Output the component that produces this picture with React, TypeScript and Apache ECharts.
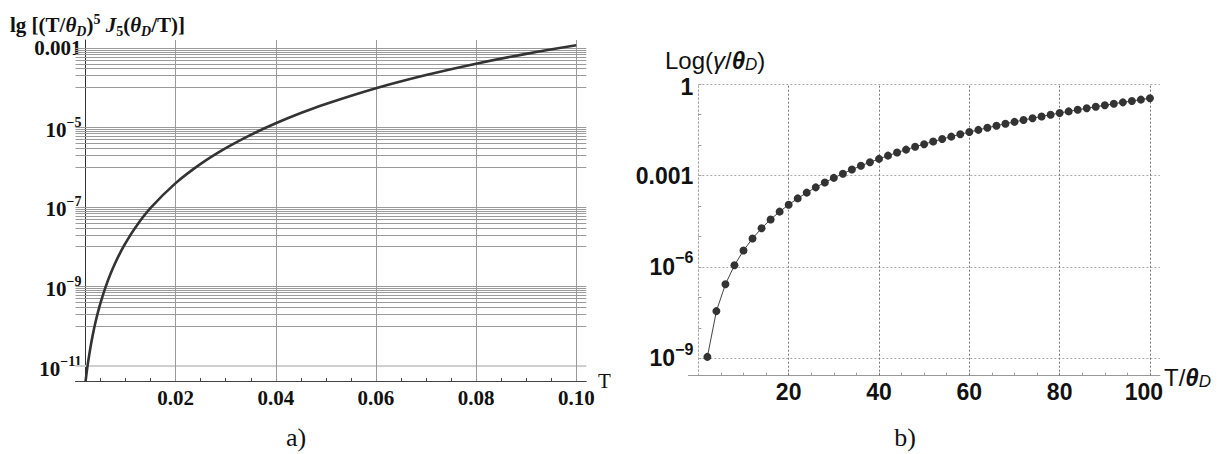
import React, { useEffect, useRef } from "react";
import * as echarts from "echarts";

// ---------- Chart a) ----------
const tA = [0.002, 0.0022, 0.0025, 0.003, 0.0035, 0.004, 0.0045, 0.005, 0.006, 0.007, 0.008, 0.009, 0.01, 0.012, 0.015, 0.02, 0.025, 0.03, 0.035, 0.04, 0.045, 0.05, 0.06, 0.07, 0.08, 0.09, 0.1];
const valA = [4.0e-12, 6.41e-12, 1.215e-11, 3.02e-11, 6.53e-11, 1.274e-10, 2.3e-10, 3.89e-10, 9.67e-10, 2.09e-9, 4.08e-9, 7.35e-9, 1.244e-8, 3.1e-8, 9.45e-8, 3.98e-7, 1.215e-6, 3.02e-6, 6.53e-6, 1.274e-5, 2.3e-5, 3.89e-5, 9.67e-5, 2.08e-4, 4.02e-4, 7.1e-4, 1.164e-3];
const xLabelsA = [0.02, 0.04, 0.06, 0.08, 0.1];
const xMinorTicksA = [0.005, 0.01, 0.015, 0.02, 0.025, 0.03, 0.035, 0.04, 0.045, 0.05, 0.055, 0.06, 0.065, 0.07, 0.075, 0.08, 0.085, 0.09, 0.095, 0.1];
const yLabelsA = [1e-3, 1e-5, 1e-7, 1e-9, 1e-11];
const gridExpA = [-3, -5, -7, -9];
const mantissas = [1, 2, 3, 4, 5, 6, 7, 8, 9];

// ---------- Chart b) ----------
const tB = [2, 4, 6, 8, 10, 12, 14, 16, 18, 20, 22, 24, 26, 28, 30, 32, 34, 36, 38, 40, 42, 44, 46, 48, 50, 52, 54, 56, 58, 60, 62, 64, 66, 68, 70, 72, 74, 76, 78, 80, 82, 84, 86, 88, 90, 92, 94, 96, 98, 100];
const valB = [1.11e-9, 3.55e-8, 2.7e-7, 1.14e-6, 3.47e-6, 8.63e-6, 1.87e-5, 3.64e-5, 6.56e-5, 1.11e-4, 1.79e-4, 2.76e-4, 4.12e-4, 5.97e-4, 8.43e-4, 1.16e-3, 1.58e-3, 2.1e-3, 2.75e-3, 3.55e-3, 4.54e-3, 5.72e-3, 7.15e-3, 8.84e-3, 1.08e-2, 1.32e-2, 1.59e-2, 1.91e-2, 2.28e-2, 2.7e-2, 3.18e-2, 3.73e-2, 4.35e-2, 5.05e-2, 5.83e-2, 6.71e-2, 7.7e-2, 8.8e-2, 1.0e-1, 1.14e-1, 1.29e-1, 1.45e-1, 1.63e-1, 1.83e-1, 2.05e-1, 2.29e-1, 2.55e-1, 2.83e-1, 3.14e-1, 3.47e-1];
const xLabelsB = [20, 40, 60, 80, 100];
const xMinorTicksB = [5, 10, 15, 20, 25, 30, 35, 40, 45, 50, 55, 60, 65, 70, 75, 80, 85, 90, 95, 100];
const yLabelsB = [1e-9, 1e-6, 1e-3, 1];
const yTicksB = [1e-9, 1e-8, 1e-7, 1e-6, 1e-5, 1e-4, 1e-3, 1e-2, 1e-1, 1];

const serif = "'Liberation Serif', 'Times New Roman', serif";
const sans = "'Liberation Sans', Arial, sans-serif";

export default function App() {
  const ref = useRef<HTMLDivElement>(null);

  useEffect(() => {
    const chart = echarts.init(ref.current as HTMLDivElement, null, { renderer: "svg" });

    const hLinesA: number[] = [];
    gridExpA.forEach((k) => {
      hLinesA.push(Math.pow(10, k));
      mantissas.forEach((m) => hLinesA.push(m * Math.pow(10, k - 1)));
    });

    const xMinA = 0;
    const xMaxA = 0.102;
    const gridLeftA = 75.5;
    const gridWidthA = 510.8;
    const yAxisPosA = 0.002;
    const offsetA = -((yAxisPosA - xMinA) / (xMaxA - xMinA)) * gridWidthA;

    const xMinB = -2.2;
    const xMaxB = 102.2;
    const gridLeftB = 688.4;
    const gridWidthB = 471.5;
    const offsetB = -((0 - xMinB) / (xMaxB - xMinB)) * gridWidthB;

    const fmtA = (v: number) => {
      const e = Math.round(Math.log10(v));
      if (e === -3) return "{p|0.001}";
      return `{b|10}{s|\u2212${-e}}`;
    };
    const fmtB = (v: number) => {
      const e = Math.round(Math.log10(v));
      if (e === 0) return "{one|1}";
      if (e === -3) return "{p|0.001}";
      return `{b|10}{s|\u2212${-e}}`;
    };

    const hLine = (x0: number, x1: number, v: number, style: any) => [
      { coord: [x0, v], lineStyle: style },
      { coord: [x1, v] },
    ];

    const option: any = {
      animation: false,
      backgroundColor: "#ffffff",
      grid: [
        { left: gridLeftA, top: 40, width: gridWidthA, height: 341 },
        { left: gridLeftB, top: 84.3, width: gridWidthB, height: 291.4 },
      ],
      xAxis: [
        {
          gridIndex: 0,
          type: "value",
          min: xMinA,
          max: xMaxA,
          axisLine: { show: true, onZero: false, lineStyle: { color: "#444", width: 1 } },
          axisTick: { show: true, inside: true, length: 3, customValues: xMinorTicksA, lineStyle: { color: "#444" } },
          axisLabel: {
            customValues: xLabelsA,
            formatter: (v: number) => v.toFixed(2),
            margin: 6,
            fontFamily: serif,
            fontWeight: "bold",
            fontSize: 21,
            color: "#111",
          },
          splitLine: { show: false },
        },
        {
          gridIndex: 1,
          type: "value",
          min: xMinB,
          max: xMaxB,
          axisLine: { show: true, onZero: false, lineStyle: { color: "#999", width: 1 } },
          axisTick: { show: true, inside: true, length: 3, customValues: xMinorTicksB, lineStyle: { color: "#999" } },
          axisLabel: {
            customValues: xLabelsB,
            formatter: (v: number) => (v === 100 ? "{r|100}" : "{n|" + v + "}"),
            margin: 5,
            rich: {
              n: { fontFamily: sans, fontWeight: "bold", fontSize: 23, color: "#111" },
              r: { fontFamily: sans, fontWeight: "bold", fontSize: 23, color: "#111", padding: [0, 12, 0, 0] },
            },
          },
          splitLine: { show: false },
        },
      ],
      yAxis: [
        {
          gridIndex: 0,
          type: "log",
          logBase: 10,
          min: 4.2e-12,
          max: 1.585e-3,
          position: "left",
          offset: offsetA,
          axisLine: { show: true, onZero: false, lineStyle: { color: "#333", width: 1 } },
          axisTick: { show: true, inside: false, length: 3, customValues: hLinesA.concat([1e-11]), lineStyle: { color: "#555" } },
          axisLabel: {
            customValues: yLabelsA,
            formatter: fmtA,
            margin: 4,
            rich: {
              p: { fontFamily: serif, fontWeight: "bold", fontSize: 21, color: "#111", lineHeight: 21 },
              b: { fontFamily: serif, fontWeight: "bold", fontSize: 21, color: "#111", lineHeight: 21, padding: [5, 0, 0, 0] },
              s: { fontFamily: serif, fontWeight: "bold", fontSize: 14, color: "#111", lineHeight: 14, padding: [0, 0, 10, 0] },
            },
          },
          splitLine: { show: false },
        },
        {
          gridIndex: 1,
          type: "log",
          logBase: 10,
          min: 2.68e-10,
          max: 1,
          position: "left",
          offset: offsetB,
          axisLine: { show: true, onZero: false, lineStyle: { color: "#aaa", width: 1, type: [2, 2] } },
          axisTick: { show: true, inside: true, length: 3, customValues: yTicksB, lineStyle: { color: "#999" } },
          axisLabel: {
            customValues: yLabelsB,
            formatter: fmtB,
            margin: 5,
            rich: {
              one: { fontFamily: sans, fontWeight: "bold", fontSize: 23, color: "#111", lineHeight: 18, padding: [5, 0, 0, 0] },
              p: { fontFamily: sans, fontWeight: "bold", fontSize: 23, color: "#111", lineHeight: 23 },
              b: { fontFamily: sans, fontWeight: "bold", fontSize: 23, color: "#111", lineHeight: 23 },
              s: { fontFamily: sans, fontWeight: "bold", fontSize: 16, color: "#111", lineHeight: 16, padding: [0, 0, 18, 0] },
            },
          },
          splitLine: { show: false },
        },
      ],
      series: [
        {
          type: "line",
          xAxisIndex: 0,
          yAxisIndex: 0,
          data: [],
          z: 1,
          markLine: {
            z: 1,
            silent: true,
            symbol: ["none", "none"],
            label: { show: false },
            data: [
              ...hLinesA.map((v) => hLine(xMinA, xMaxA, v, { color: "#9a9a9a", width: 1, type: "solid" })),
              hLine(xMinA, xMaxA, 1e-11, { color: "#cfcfcf", width: 2, type: "solid" }),
              ...xLabelsA.map((v) => ({ xAxis: v, lineStyle: { color: "#9a9a9a", width: 1, type: "solid" } })),
            ],
          },
        },
        {
          type: "line",
          xAxisIndex: 0,
          yAxisIndex: 0,
          data: tA.map((t, i) => [t, valA[i]]),
          smooth: 0.4,
          symbol: "none",
          showSymbol: false,
          lineStyle: { color: "#333", width: 2.6 },
          z: 6,
        },
        {
          type: "line",
          xAxisIndex: 1,
          yAxisIndex: 1,
          data: [],
          z: 1,
          markLine: {
            z: 1,
            silent: true,
            symbol: ["none", "none"],
            label: { show: false },
            data: [
              ...yLabelsB.map((v) => hLine(0, xMaxB, v, { color: "#aaa", width: 1, type: [2, 2] })),
              ...xLabelsB.map((v) => ({ xAxis: v, lineStyle: { color: "#777", width: 1, type: [2, 2] } })),
            ],
          },
        },
        {
          type: "line",
          xAxisIndex: 1,
          yAxisIndex: 1,
          data: tB.map((t, i) => [t, valB[i]]),
          symbol: "circle",
          symbolSize: 8,
          itemStyle: { color: "#333" },
          lineStyle: { color: "#444", width: 1 },
          z: 6,
        },
      ],
      graphic: [
        {
          type: "text",
          x: 10,
          y: 25,
          style: {
            text: "{b|lg [(T/}{bi|\u03b8}{sub|D}{b|)}{sup|5}{b| }{bi|J}{subn|5}{b|(}{bi|\u03b8}{sub|D}{b|/T)]}",
            align: "left",
            verticalAlign: "middle",
            rich: {
              b: { fontFamily: serif, fontWeight: "bold", fontSize: 21, fill: "#111", lineHeight: 21, padding: [6, 0, 6, 0] },
              bi: { fontFamily: serif, fontWeight: "bold", fontStyle: "italic", fontSize: 21, fill: "#111", lineHeight: 21, padding: [6, 0, 6, 0] },
              sub: { fontFamily: serif, fontWeight: "bold", fontStyle: "italic", fontSize: 14, fill: "#111", lineHeight: 14, padding: [12, 0, 0, 0] },
              subn: { fontFamily: serif, fontWeight: "bold", fontSize: 14, fill: "#111", lineHeight: 14, padding: [12, 0, 0, 0] },
              sup: { fontFamily: serif, fontWeight: "bold", fontSize: 14, fill: "#111", lineHeight: 14, padding: [0, 0, 12, 0] },
            },
          },
        },
        {
          type: "text",
          x: 598,
          y: 381,
          style: { text: "T", fontFamily: serif, fontSize: 21, fill: "#111", align: "left", verticalAlign: "middle" },
        },
        {
          type: "text",
          x: 296,
          y: 437,
          style: { text: "a)", fontFamily: serif, fontSize: 26, fill: "#111", align: "center", verticalAlign: "middle" },
        },
        {
          type: "text",
          x: 665,
          y: 60,
          style: {
            text: "{n|Log(}{i|\u03b3}{n|/}{bi|\u03b8}{sub|D}{n|)}",
            align: "left",
            verticalAlign: "middle",
            rich: {
              n: { fontFamily: sans, fontSize: 24, fill: "#111", lineHeight: 24 },
              i: { fontFamily: sans, fontStyle: "italic", fontSize: 24, fill: "#111", lineHeight: 24 },
              bi: { fontFamily: sans, fontWeight: "bold", fontStyle: "italic", fontSize: 24, fill: "#111", lineHeight: 24 },
              sub: { fontFamily: sans, fontStyle: "italic", fontSize: 17, fill: "#111", lineHeight: 17, padding: [8, 0, 0, 0] },
            },
          },
        },
        {
          type: "text",
          x: 1164,
          y: 377,
          style: {
            text: "{n|T/}{bi|\u03b8}{sub|D}",
            align: "left",
            verticalAlign: "middle",
            rich: {
              n: { fontFamily: sans, fontSize: 24, fill: "#111", lineHeight: 24 },
              bi: { fontFamily: sans, fontWeight: "bold", fontStyle: "italic", fontSize: 24, fill: "#111", lineHeight: 24 },
              sub: { fontFamily: sans, fontStyle: "italic", fontSize: 17, fill: "#111", lineHeight: 17, padding: [9, 0, 0, 0] },
            },
          },
        },
        {
          type: "text",
          x: 905,
          y: 437,
          style: { text: "b)", fontFamily: serif, fontSize: 26, fill: "#111", align: "center", verticalAlign: "middle" },
        },
      ],
    };

    chart.setOption(option);
    return () => chart.dispose();
  }, []);

  return (
    <div
      ref={ref}
      style={{ position: "fixed", left: 0, top: 0, width: 1222, height: 454, background: "#fff" }}
    />
  );
}
